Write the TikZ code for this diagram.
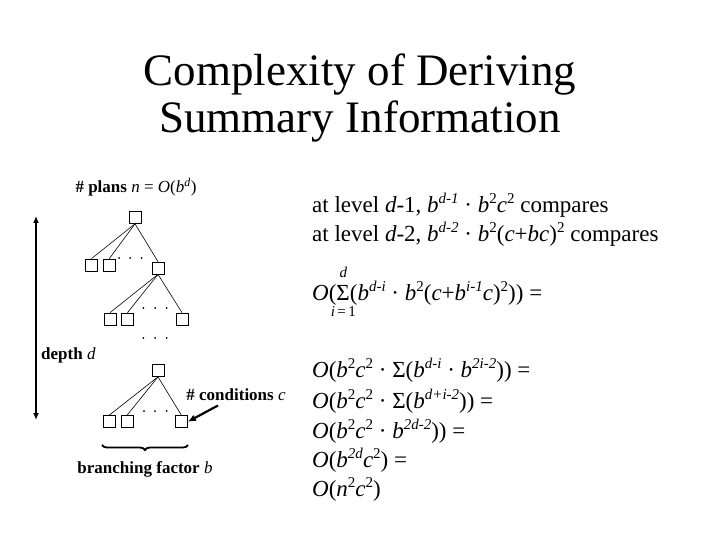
\documentclass[tikz,border=0pt]{standalone}
\usepackage{fontspec}
\setmainfont{Liberation Serif}
\usetikzlibrary{decorations.pathreplacing,arrows.meta}
\newcommand\sups[1]{\raisebox{0.36em}{\fontsize{15}{15}\selectfont #1}}
\newcommand\sumlim{\makebox[0pt][l]{\makebox[0.6em][c]{\raisebox{1.0em}{\fontsize{15}{15}\selectfont\textit{d}}}}\makebox[0pt][l]{\makebox[0.6em][c]{\raisebox{-0.72em}{\fontsize{15}{15}\selectfont\textit{i}\,=\,1}}}Σ}
\tikzset{
  tbox/.style={draw, line width=0.7pt, minimum size=12pt, inner sep=0pt},
  edge/.style={line width=0.6pt},
  dotsym/.style={circle, fill, inner sep=0pt, minimum size=2pt},
  lbl/.style={inner sep=0pt, font=\fontsize{17}{19}\selectfont\bfseries},
  rtxt/.style={inner sep=0pt, anchor=base west, font=\fontsize{23}{26}\selectfont},
  ttl/.style={inner sep=0pt, font=\fontsize{45}{50}\selectfont}
}
\begin{document}
\begin{tikzpicture}[x=1pt,y=-1pt]
\useasboundingbox (0,0) rectangle (720,540);
% title
\node[ttl] (t1) at (360,75) {Complexity of Deriving};
\node[ttl] (t2) at (360,122) {Summary Information};
% tree
\node[lbl] (plans) at (136,187) {\# plans \textmd{\textit{n}} \textmd{= \textit{O}(\textit{b}\textsuperscript{\textit{d}})}};
\node[tbox] (r0) at (135,217.5) {};
\node[tbox] (a1) at (91.5,265) {};
\node[tbox] (a2) at (109.3,265) {};
\node[tbox] (a3) at (158,268) {};
\foreach \x [count=\i] in {119,130,141.7} \node[dotsym] (da\i) at (\x,258) {};
\node[tbox] (b1) at (110,319) {};
\node[tbox] (b2) at (127.5,319) {};
\node[tbox] (b3) at (182,319) {};
\foreach \x [count=\i] in {143.3,155,166.7} \node[dotsym] (db\i) at (\x,308) {};
\foreach \x [count=\i] in {143.3,155,166.7} \node[dotsym] (dm\i) at (\x,338) {};
\node[tbox] (c0) at (158,370.5) {};
\node[tbox] (e1) at (109,421.7) {};
\node[tbox] (e2) at (127,421.7) {};
\node[tbox] (e3) at (181.5,421.7) {};
\foreach \x [count=\i] in {144,155,166.7} \node[dotsym] (de\i) at (\x,411) {};
\foreach \p/\c in {r0/a1,r0/a2,r0/a3,a3/b1,a3/b2,a3/b3,c0/e1,c0/e2,c0/e3}
  \draw[edge] (\p.south) -- (\c.north);
% depth arrow
\coordinate (dtop) at (36,216);
\coordinate (dbot) at (36,420);
\draw[line width=1.8pt, {Latex[length=7pt,width=6pt]}-{Latex[length=7pt,width=6pt]}] (dtop) -- (dbot);
\node[lbl, anchor=west] (depth) at (41,355) {depth \textmd{\textit{d}}};
% conditions
\node[lbl] (cond) at (236,395) {\# conditions \textmd{\textit{c}}};
\coordinate (cs) at (218,405.5);
\draw[line width=2.2pt, -{Latex[length=8pt,width=7pt]}] (cs) -- (e3.east);
% brace
\coordinate (bl) at (102,445);
\coordinate (br) at (188,445);
\draw[line width=1.8pt, decorate, decoration={brace, mirror, amplitude=5pt}] (bl) -- (br);
\node[lbl] (bf) at (145,469) {branching factor \textmd{\textit{b}}};
% right text
\node[rtxt] (l1) at (312,212) {at level \textit{d}-1, \textit{b}\sups{\textit{d-1}} · \textit{b}\sups{2}\textit{c}\sups{2} compares};
\node[rtxt] (l2) at (312,241) {at level \textit{d}-2, \textit{b}\sups{\textit{d-2}} · \textit{b}\sups{2}(\textit{c}+\textit{bc})\sups{2} compares};
\node[rtxt] (l3) at (312,300) {\textit{O}(\sumlim(\textit{b}\sups{\textit{d-i}} · \textit{b}\sups{2}(\textit{c}+\textit{b}\sups{\textit{i-1}}\textit{c})\sups{2})) =};
\node[rtxt] (l4) at (312,377) {\textit{O}(\textit{b}\sups{2}\textit{c}\sups{2} · Σ(\textit{b}\sups{\textit{d-i}} · \textit{b}\sups{\textit{2i-2}})) =};
\node[rtxt] (l5) at (312,408) {\textit{O}(\textit{b}\sups{2}\textit{c}\sups{2} · Σ(\textit{b}\sups{\textit{d+i-2}})) =};
\node[rtxt] (l6) at (312,438) {\textit{O}(\textit{b}\sups{2}\textit{c}\sups{2} · \textit{b}\sups{\textit{2d-2}})) =};
\node[rtxt] (l7) at (312,467) {\textit{O}(\textit{b}\sups{\textit{2d}}\textit{c}\sups{2}) =};
\node[rtxt] (l8) at (312,496) {\textit{O}(\textit{n}\sups{2}\textit{c}\sups{2})};
\end{tikzpicture}
\end{document}
